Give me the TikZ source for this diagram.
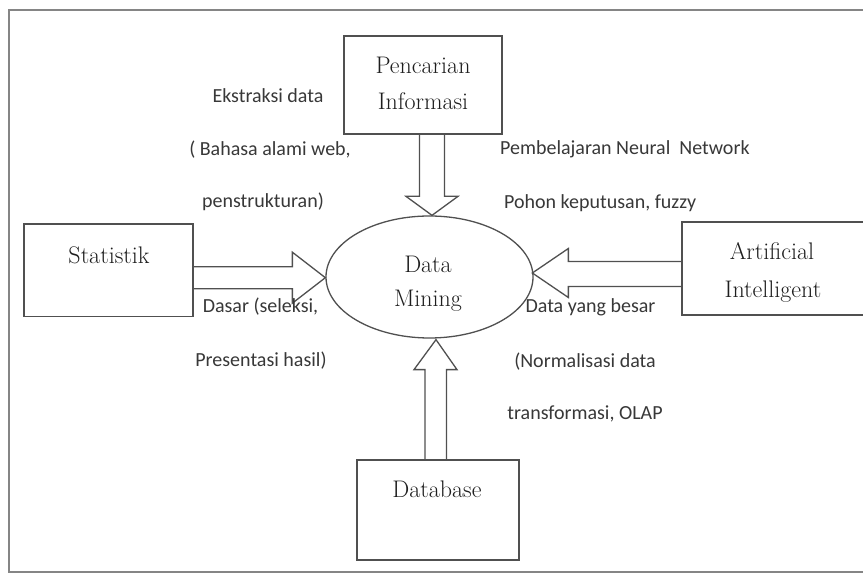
\documentclass[tikz,border=0pt]{standalone}
\usepackage{fontspec}
\newfontfamily\lblfont{Carlito}
\usetikzlibrary{shapes.geometric,calc}
\definecolor{linegray}{HTML}{505050}
\definecolor{framegray}{HTML}{858585}
\definecolor{lblgray}{HTML}{383838}
\definecolor{txtgray}{HTML}{1E1E1E}
\tikzset{
  boxnode/.style={draw=linegray,line width=1.3pt,rectangle,inner sep=0pt},
  ellnode/.style={draw=linegray,line width=1.3pt,ellipse,inner sep=0pt},
  boxtext/.style={text=txtgray,inner sep=0pt,font=\fontsize{24}{28}\selectfont},
  lbltext/.style={text=lblgray,inner sep=0pt,font=\lblfont\fontsize{20}{24}\selectfont},
  blockarrow/.style={draw=linegray,line width=1.3pt,line join=miter}
}
\begin{document}
\begin{tikzpicture}[x=1pt,y=1pt]
\useasboundingbox (0,0) rectangle (863,575);
\clip (0,0) rectangle (863,575);
\fill[white] (0,0) rectangle (863,575);
% outer frame
\draw[framegray,line width=2pt] (9,3) rectangle (900,565);

% boxes
\node[boxnode,minimum width=158pt,minimum height=98pt] (pi) at (423,490) {};
\node[boxnode,minimum width=169pt,minimum height=92.5pt] (st) at (108.5,304.75) {};
\node[boxnode,minimum width=198pt,minimum height=93pt] (ai) at (781,306.5) {};
\node[boxnode,minimum width=162pt,minimum height=100pt] (db) at (438,65) {};
\node[ellnode,minimum width=207pt,minimum height=122pt] (dm) at (429.5,298) {};

% box texts
\node[boxtext,anchor=base] (pit1) at (423,501) {Pencarian};
\node[boxtext,anchor=base] (pit2) at (423,465) {Informasi};
\node[boxtext,anchor=base] (stt) at (109,311.7) {Statistik};
\node[boxtext,anchor=base] (ait1) at (772,315) {Artificial};
\node[boxtext,anchor=base] (ait2) at (773,277) {Intelligent};
\node[boxtext,anchor=base] (dmt1) at (428,302) {Data};
\node[boxtext,anchor=base] (dmt2) at (428,268) {Mining};
\node[boxtext,anchor=base] (dbt) at (437,77) {Database};

% block arrows
% top: Pencarian Informasi -> Data Mining
\draw[blockarrow] let \p1=(pi.south), \p2=($(dm.north)+(2.5,0)$) in
  (\x2-12.5pt,\y1) -- (\x2-12.5pt,\y2+19pt) -- (\x2-26pt,\y2+19pt) -- (\x2,\y2)
  -- (\x2+26pt,\y2+19pt) -- (\x2+12.5pt,\y2+19pt) -- (\x2+12.5pt,\y1);
% left: Statistik -> Data Mining
\draw[blockarrow] let \p1=(st.east), \p2=($(dm.west)+(0,-0.7)$) in
  (\x1,\y2+11pt) -- (\x2-33pt,\y2+11pt) -- (\x2-33pt,\y2+25.5pt) -- (\x2,\y2)
  -- (\x2-33pt,\y2-25.5pt) -- (\x2-33pt,\y2-11pt) -- (\x1,\y2-11pt);
% right: Artificial Intelligent -> Data Mining
\draw[blockarrow] let \p1=(ai.west), \p2=($(dm.east)+(-1.3,4)$) in
  (\x1,\y2+11.5pt) -- (\x2+36pt,\y2+11.5pt) -- (\x2+36pt,\y2+24.5pt) -- (\x2,\y2)
  -- (\x2+36pt,\y2-24.5pt) -- (\x2+36pt,\y2-13.5pt) -- (\x1,\y2-13.5pt);
% bottom: Database -> Data Mining
\draw[blockarrow] let \p1=(db.north), \p2=($(dm.south)+(6.5,-1)$) in
  (\x2-11pt,\y1) -- (\x2-11pt,\y2-30pt) -- (\x2-22pt,\y2-30pt) -- (\x2,\y2)
  -- (\x2+21pt,\y2-30pt) -- (\x2+10.5pt,\y2-30pt) -- (\x2+10.5pt,\y1);

% labels
\node[lbltext,anchor=base] (l1) at (268,472) {Ekstraksi data};
\node[lbltext,anchor=base] (l2) at (270,419) {( Bahasa alami web,};
\node[lbltext,anchor=base] (l3) at (263,367) {penstrukturan)};
\node[lbltext,anchor=base west] (l4) at (500,420) {Pembelajaran Neural~ Network};
\node[lbltext,anchor=base west] (l5) at (504,366) {Pohon keputusan, fuzzy};
\node[lbltext,anchor=base] (l6) at (260.5,262) {Dasar (seleksi,};
\node[lbltext,anchor=base] (l7) at (261,208) {Presentasi hasil)};
\node[lbltext,anchor=base] (l8) at (590.5,262) {Data yang besar};
\node[lbltext,anchor=base] (l9) at (585,207) {(Normalisasi data};
\node[lbltext,anchor=base] (l10) at (585,155) {transformasi, OLAP};
\end{tikzpicture}
\end{document}
